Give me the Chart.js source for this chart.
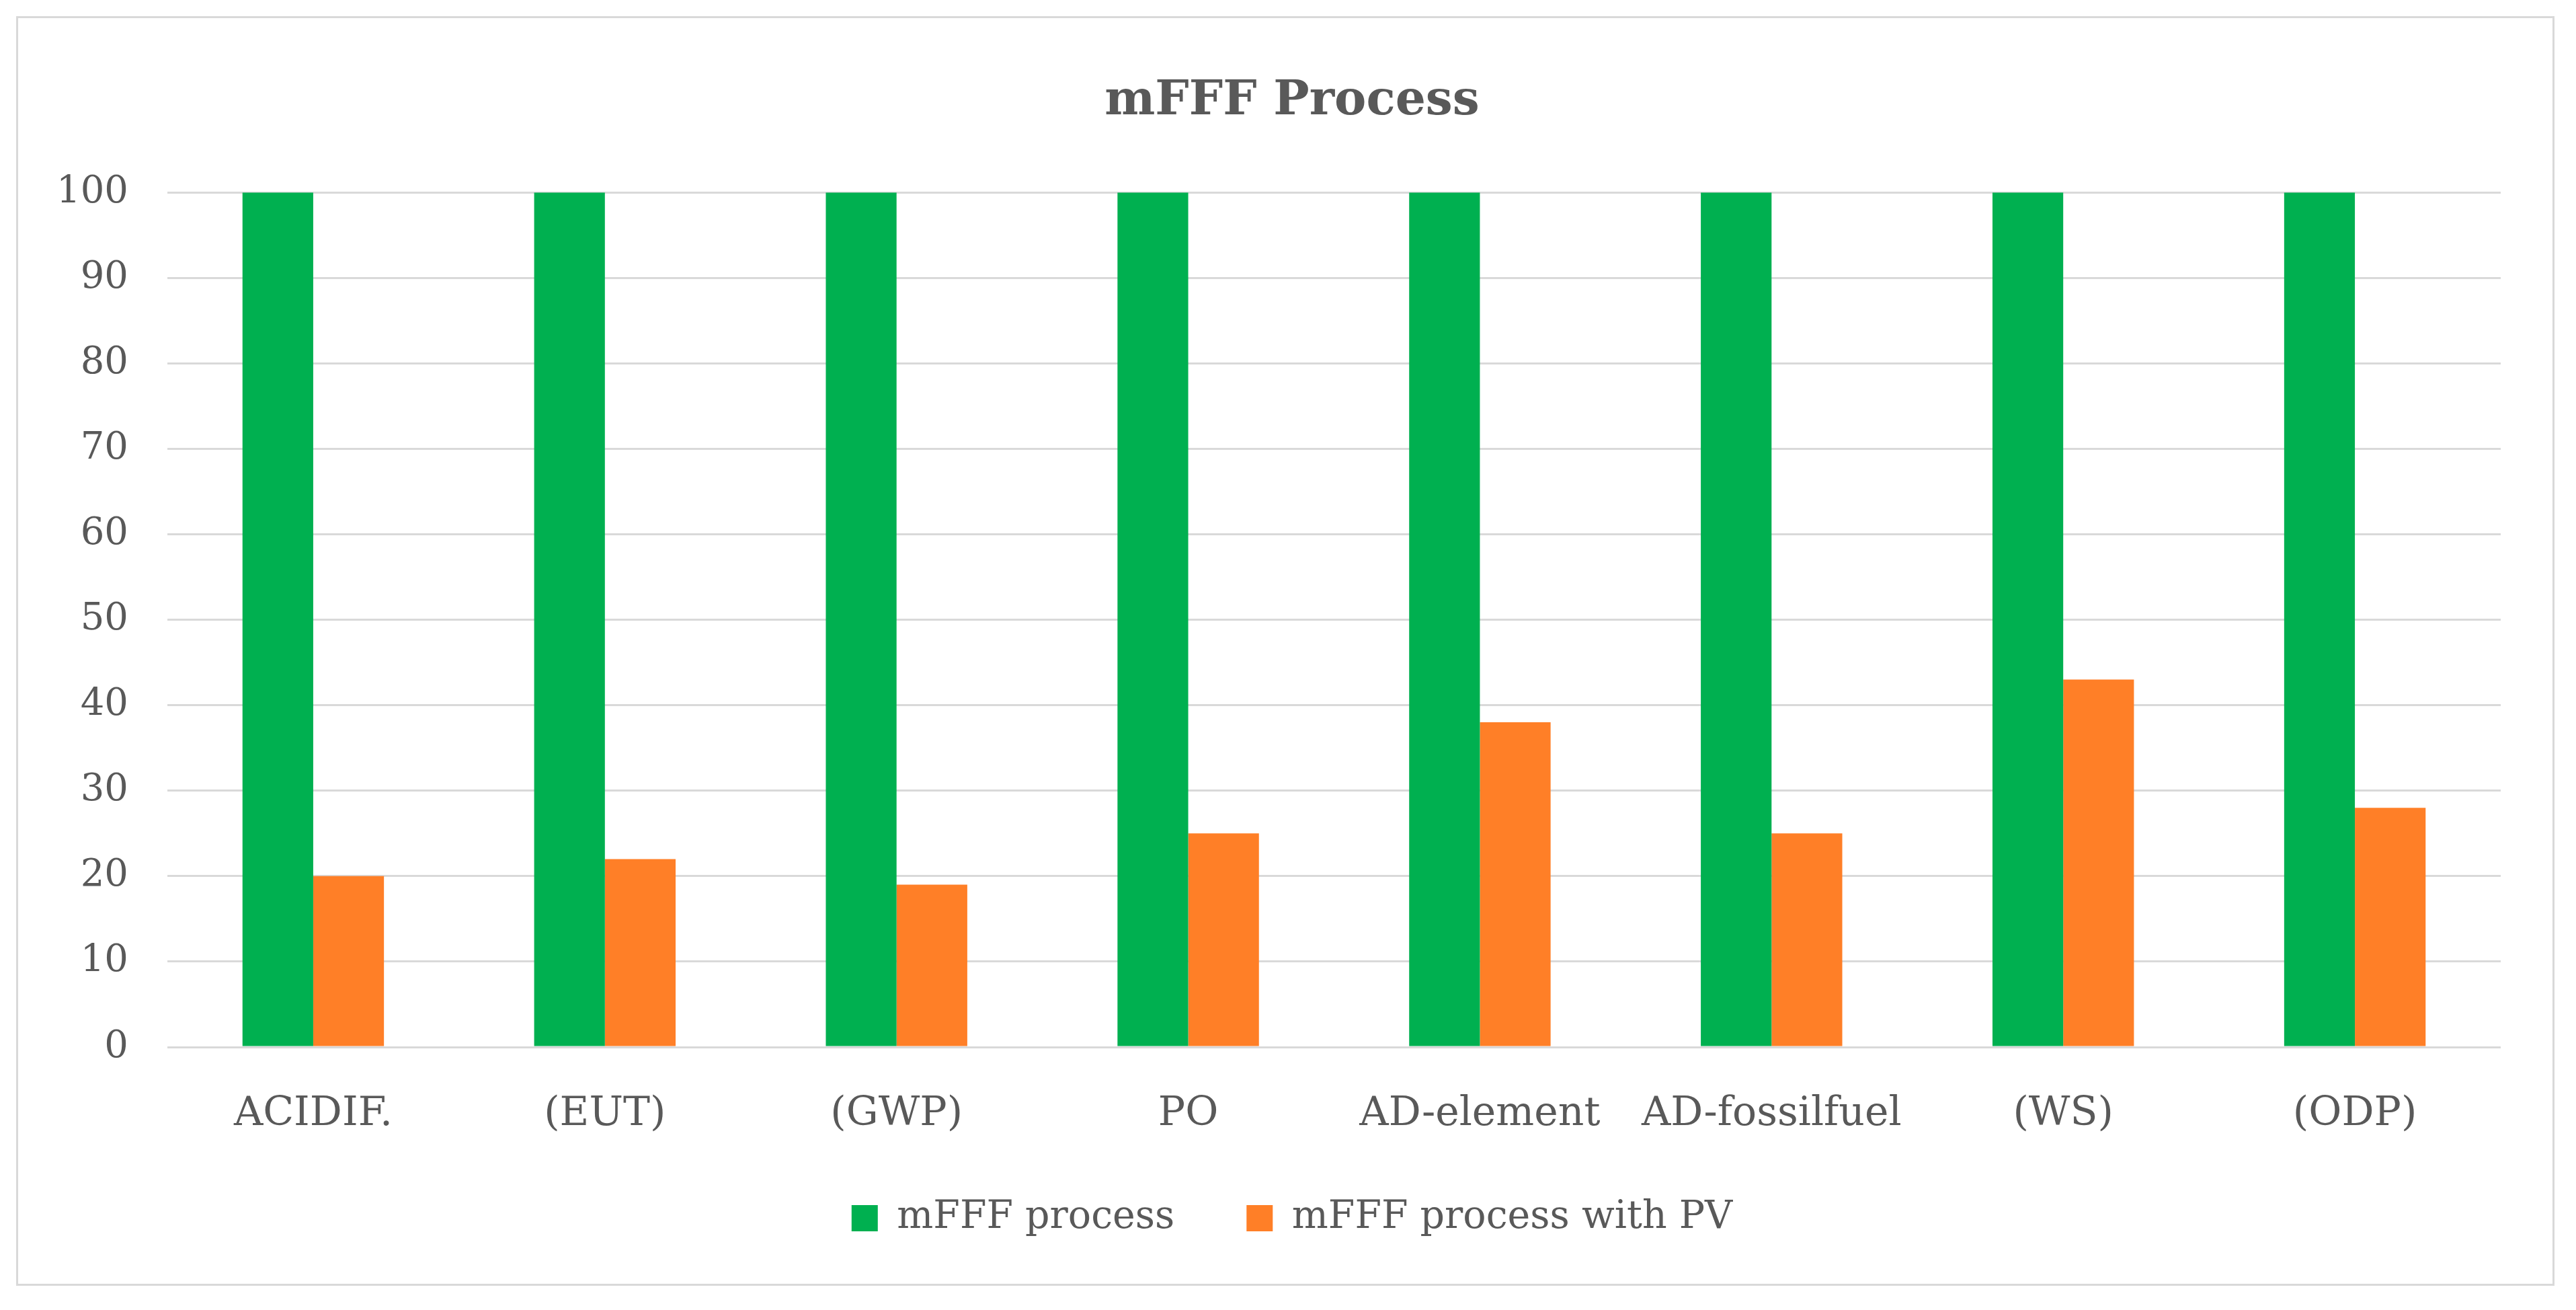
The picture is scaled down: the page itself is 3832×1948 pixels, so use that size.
<!DOCTYPE html>
<html>
<head>
<meta charset="utf-8">
<script src="https://cdn.jsdelivr.net/npm/chart.js@4"></script>
<style>
  html, body { margin: 0; padding: 0; background: #ffffff; }
  #frame {
    position: absolute; left: 24px; top: 24px;
    width: 3776px; height: 1888px;
    border: 3px solid #d9d9d9; box-sizing: border-box; background: #fff;
  }
  #wrap { position: absolute; left: 0; top: 0; width: 3770px; height: 1882px; }
</style>
</head>
<body>
<div id="frame"><div id="wrap"><canvas id="c"></canvas></div></div>
<script>
const categories = ['ACIDIF.', '(EUT)', '(GWP)', 'PO', 'AD-element', 'AD-fossilfuel', '(WS)', '(ODP)'];
const seriesNames = ['mFFF process', 'mFFF process with PV'];
const mfffProcess = [100, 100, 100, 100, 100, 100, 100, 100];
const mfffProcessPV = [20, 22, 19, 25, 38, 25, 43, 28];
const yTicks = [0, 10, 20, 30, 40, 50, 60, 70, 80, 90, 100];
const chartTitle = 'mFFF Process';

const FONT = "'DejaVu Serif', serif";
const TXT = '#595959';

// let tick labels draw outside the scale's own box (no label clipping)
const noLabelClip = (s) => { s._computeLabelArea = () => undefined; };

new Chart(document.getElementById('c'), {
  type: 'bar',
  data: {
    labels: categories,
    datasets: [
      { label: seriesNames[0], data: mfffProcess, backgroundColor: '#00B050', borderWidth: 0,
        categoryPercentage: 0.485, barPercentage: 1.0 },
      { label: seriesNames[1], data: mfffProcessPV, backgroundColor: '#FF7F27', borderWidth: 0,
        categoryPercentage: 0.485, barPercentage: 1.0 }
    ]
  },
  options: {
    responsive: true,
    maintainAspectRatio: false,
    animation: false,
    devicePixelRatio: 1,
    layout: { padding: { left: 97, right: 77, top: 0, bottom: 59 } },
    plugins: {
      title: {
        display: true, text: chartTitle, color: TXT,
        font: { family: FONT, size: 71, weight: 'bold', lineHeight: 1.2 },
        padding: { top: 82, bottom: 92 }
      },
      legend: {
        position: 'bottom',
        labels: {
          color: TXT, font: { family: FONT, size: 57 },
          boxWidth: 39, boxHeight: 39, padding: 107
        }
      },
      tooltip: { enabled: false }
    },
    scales: {
      x: {
        grid: { display: false, drawTicks: false },
        border: { display: false },
        ticks: { color: TXT, font: { family: FONT, size: 60 }, padding: 64, maxRotation: 0 },
        afterFit: (s) => { s.height = 119; noLabelClip(s); }
      },
      y: {
        min: 0, max: 100,
        afterBuildTicks: (s) => { s.ticks = yTicks.map(v => ({ value: v })); },
        grid: { color: '#d9d9d9', lineWidth: 3, drawTicks: false },
        border: { display: false },
        ticks: { color: TXT, font: { family: FONT, size: 56 }, padding: 58 },
        afterFit: (s) => { s.width = 125; noLabelClip(s); }
      }
    }
  }
});
</script>
</body>
</html>
